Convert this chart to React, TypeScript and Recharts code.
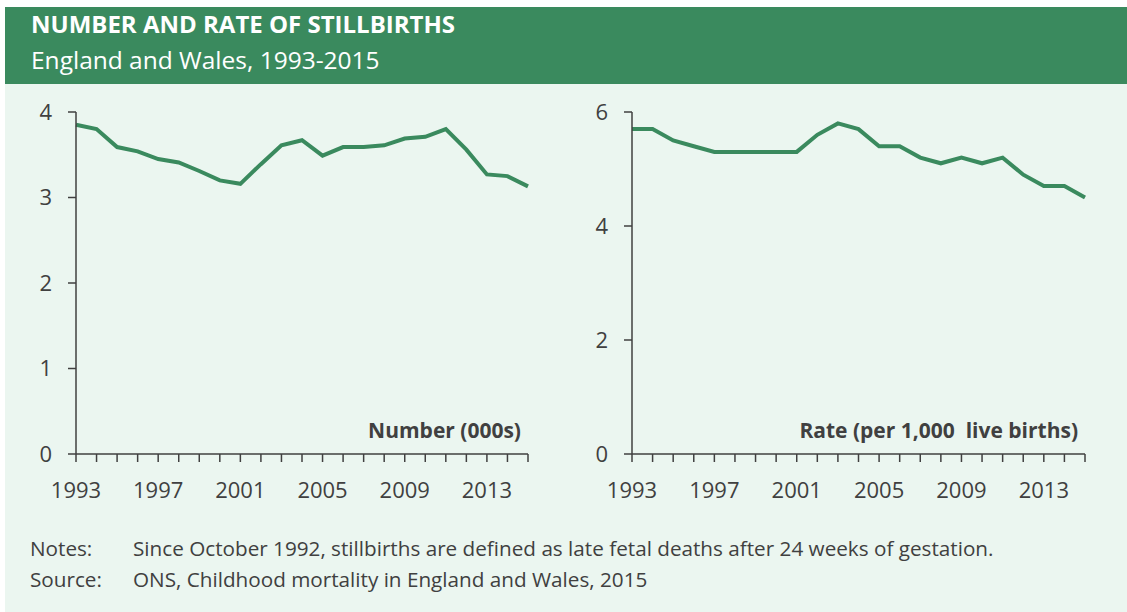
import React from 'react';
import { LineChart, Line, XAxis, YAxis } from 'recharts';

const years = [1993, 1994, 1995, 1996, 1997, 1998, 1999, 2000, 2001, 2002, 2003, 2004, 2005, 2006, 2007, 2008, 2009, 2010, 2011, 2012, 2013, 2014, 2015];
const numberThousands = [3.85, 3.80, 3.59, 3.54, 3.45, 3.41, 3.31, 3.20, 3.16, 3.39, 3.61, 3.67, 3.49, 3.59, 3.59, 3.61, 3.69, 3.71, 3.80, 3.56, 3.27, 3.25, 3.13];
const ratePer1000 = [5.7, 5.7, 5.5, 5.4, 5.3, 5.3, 5.3, 5.3, 5.3, 5.6, 5.8, 5.7, 5.4, 5.4, 5.2, 5.1, 5.2, 5.1, 5.2, 4.9, 4.7, 4.7, 4.5];
const xLabelYears = [1993, 1997, 2001, 2005, 2009, 2013];
const leftTicks = [0, 1, 2, 3, 4];
const rightTicks = [0, 2, 4, 6];

const title = 'NUMBER AND RATE OF STILLBIRTHS';
const subtitle = 'England and Wales, 1993-2015';
const leftLabel = 'Number (000s)';
const rightLabel = 'Rate (per 1,000  live births)';
const notesText = 'Since October 1992, stillbirths are defined as late fetal deaths after 24 weeks of gestation.';
const sourceText = 'ONS, Childhood mortality in England and Wales, 2015';

const GREEN = '#3a8a5e';
const BG = '#ebf6f0';
const TEXT = '#404040';
const FONT = '"Open Sans", sans-serif';

const leftData = years.map((y, i) => ({ year: y, value: numberThousands[i] }));
const rightData = years.map((y, i) => ({ year: y, value: ratePer1000[i] }));

const fmtX = (v: number) => (xLabelYears.includes(v) ? String(v) : '');

const tickStyle = { fill: TEXT, fontSize: 22, fontFamily: FONT };

function Panel({ data, ticks, domain, yWidth, right }: { data: any[]; ticks: number[]; domain: [number, number]; yWidth: number; right: number }) {
  return (
    <LineChart width={560} height={460} data={data} margin={{ top: 28, right, left: 0, bottom: 0 }}>
      <XAxis
        dataKey="year"
        type="number"
        domain={[1993, 2015]}
        ticks={years}
        tickFormatter={fmtX}
        interval={0}
        height={90}
        tickSize={8}
        tickMargin={20}
        tick={tickStyle}
        axisLine={{ stroke: TEXT, strokeWidth: 1.5 }}
        tickLine={{ stroke: TEXT, strokeWidth: 1.5 }}
      />
      <YAxis
        type="number"
        domain={domain}
        ticks={ticks}
        width={yWidth}
        tickSize={8}
        tickMargin={16}
        tick={tickStyle}
        axisLine={{ stroke: TEXT, strokeWidth: 1.5 }}
        tickLine={{ stroke: TEXT, strokeWidth: 1.5 }}
      />
      <Line type="linear" dataKey="value" stroke={GREEN} strokeWidth={4} dot={false} isAnimationActive={false} />
    </LineChart>
  );
}

export default function App() {
  return (
    <div style={{ position: 'absolute', left: 0, top: 0, width: 1127, height: 612, background: '#ffffff', fontFamily: FONT }}>
      <svg width={1127} height={612} style={{ position: 'absolute', left: 0, top: 0 }}>
        <rect x={5} y={7} width={1122} height={77} fill={GREEN} />
        <rect x={5} y={84} width={1122} height={528} fill={BG} />
        <text x={31} y={33} fill="#ffffff" fontSize={24} fontWeight={700} fontFamily={FONT}>{title}</text>
        <text x={31} y={69} fill="#ffffff" fontSize={24.5} fontFamily={FONT}>{subtitle}</text>
        <text x={521} y={438} fill={TEXT} fontSize={21} fontWeight={700} fontFamily={FONT} textAnchor="end">{leftLabel}</text>
        <text x={1078} y={438} fill={TEXT} fontSize={21} fontWeight={700} fontFamily={FONT} textAnchor="end" style={{ whiteSpace: 'pre' }}>{rightLabel}</text>
        <text x={30} y={556} fill={TEXT} fontSize={20.7} fontFamily={FONT}>Notes:</text>
        <text x={133} y={556} fill={TEXT} fontSize={20.7} fontFamily={FONT}>{notesText}</text>
        <text x={30} y={587} fill={TEXT} fontSize={20.7} fontFamily={FONT}>Source:</text>
        <text x={133} y={587} fill={TEXT} fontSize={20.7} fontFamily={FONT}>{sourceText}</text>
      </svg>
      <div style={{ position: 'absolute', left: 0, top: 84 }}>
        <Panel data={leftData} ticks={leftTicks} domain={[0, 4]} yWidth={76} right={32} />
      </div>
      <div style={{ position: 'absolute', left: 560, top: 84 }}>
        <Panel data={rightData} ticks={rightTicks} domain={[0, 6]} yWidth={72} right={35} />
      </div>
    </div>
  );
}
